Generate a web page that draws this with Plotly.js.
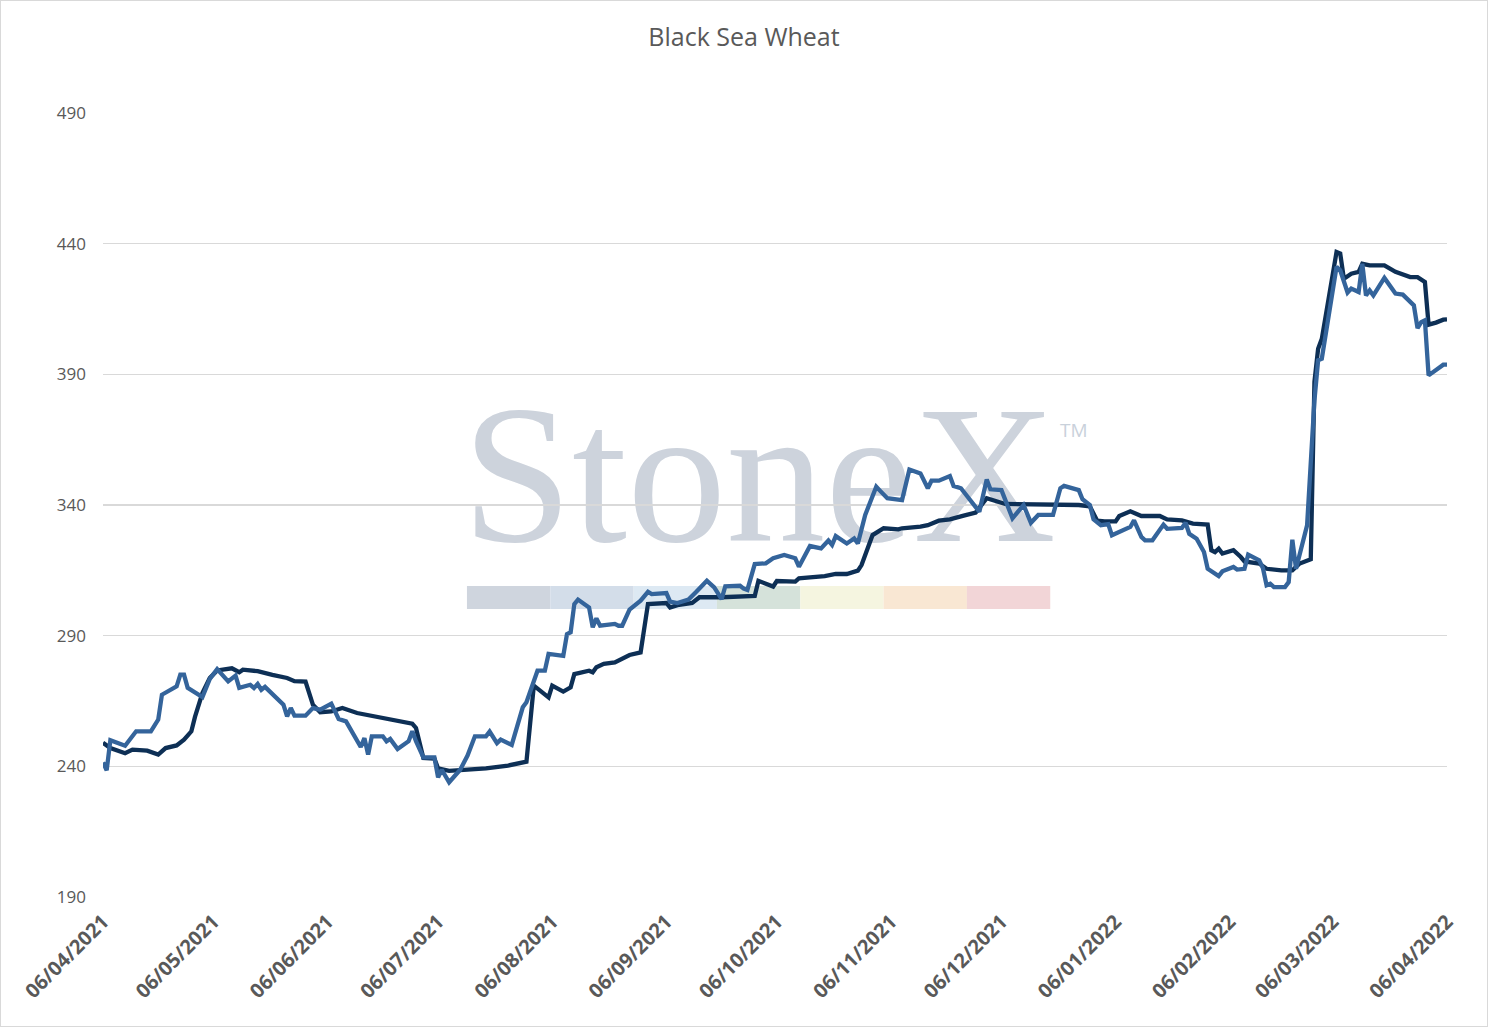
<!DOCTYPE html>
<html>
<head>
<meta charset="utf-8">
<script src="https://cdn.plot.ly/plotly-3.0.1.min.js"></script>
<style>
  body { margin: 0; background: #ffffff; }
  #chart_div { width: 1486px; height: 1025px; border: 1px solid #d9d9d9; }
</style>
</head>
<body>
<div id="chart_div"></div>
<script>

// dark series
var darkDates = ['2021-04-06','2021-04-08','2021-04-12','2021-04-14','2021-04-18','2021-04-21','2021-04-23','2021-04-26','2021-04-28','2021-04-30',
  '2021-05-01','2021-05-03','2021-05-05','2021-05-07','2021-05-11','2021-05-13','2021-05-14','2021-05-18','2021-05-22','2021-05-26','2021-05-28','2021-05-31',
  '2021-06-02','2021-06-04','2021-06-07','2021-06-10','2021-06-14','2021-06-21','2021-06-25','2021-06-29','2021-06-30',
  '2021-07-02','2021-07-05','2021-07-06','2021-07-09','2021-07-13','2021-07-19','2021-07-25','2021-07-30',
  '2021-08-01','2021-08-05','2021-08-06','2021-08-09','2021-08-11','2021-08-12','2021-08-16','2021-08-17','2021-08-18','2021-08-20','2021-08-23','2021-08-27','2021-08-30',
  '2021-09-01','2021-09-06','2021-09-07','2021-09-09','2021-09-13','2021-09-15','2021-09-21','2021-09-30',
  '2021-10-01','2021-10-05','2021-10-06','2021-10-11','2021-10-12','2021-10-15','2021-10-19','2021-10-22','2021-10-25','2021-10-28','2021-10-29',
  '2021-11-01','2021-11-04','2021-11-08','2021-11-09','2021-11-14','2021-11-16','2021-11-19','2021-11-22','2021-11-26','2021-11-29',
  '2021-12-02','2021-12-05','2021-12-07','2021-12-27','2021-12-30',
  '2022-01-01','2022-01-03','2022-01-06','2022-01-07','2022-01-10','2022-01-13','2022-01-18','2022-01-20','2022-01-24','2022-01-27','2022-01-31',
  '2022-02-01','2022-02-02','2022-02-03','2022-02-04','2022-02-07','2022-02-09','2022-02-10','2022-02-14','2022-02-16','2022-02-20','2022-02-23','2022-02-25','2022-02-28',
  '2022-03-01','2022-03-02','2022-03-03','2022-03-07','2022-03-08','2022-03-09','2022-03-11','2022-03-13','2022-03-14','2022-03-16','2022-03-20','2022-03-23','2022-03-27','2022-03-29','2022-03-31',
  '2022-04-01','2022-04-03','2022-04-05','2022-04-06'];
var darkValues = [249,247,245,246.4,246,244.5,247,248,250.2,253.4,
  259,268,273.8,276.7,277.5,276,277,276.4,275,273.8,272.6,272.4,
  263.6,260.7,261,262.3,260.4,258.5,257,256.3,254.7,
  243.2,243,239.2,238.3,238.7,239.2,240.3,241.8,
  270.9,266.4,270.9,268.6,270.2,275.3,276.6,276,277.9,279.2,279.8,282.6,283.6,
  302.1,302.5,300.8,301.7,302.5,304.7,304.7,305.2,
  311,308.8,310.9,310.7,311.9,312.3,312.8,313.6,313.6,314.9,317,
  328.5,331.1,330.7,331.1,331.7,332.3,334,334.5,336,337.1,
  342.6,341.3,340.4,340,339.5,
  334,333.7,333.7,335.8,337.6,335.8,335.8,334.5,334.1,332.9,332.5,
  322.7,322,323.3,321.4,322.7,320.1,318.4,317.6,315.6,315,315,317.6,319.2,
  387.1,399.8,403.6,436.8,436.2,426.6,428.5,429.2,432.3,431.7,431.7,429.2,427.2,427.2,425.3,
  409,409.8,410.9,411];

// blue series
var blueDates = ['2021-04-06','2021-04-07','2021-04-08','2021-04-12','2021-04-15','2021-04-19','2021-04-21','2021-04-22','2021-04-26','2021-04-27','2021-04-28','2021-04-29',
  '2021-05-03','2021-05-05','2021-05-07','2021-05-10','2021-05-12','2021-05-13','2021-05-16','2021-05-17','2021-05-18','2021-05-19','2021-05-20','2021-05-25','2021-05-26','2021-05-27','2021-05-28','2021-05-31',
  '2021-06-02','2021-06-04','2021-06-07','2021-06-09','2021-06-11','2021-06-14','2021-06-15','2021-06-16','2021-06-17','2021-06-18','2021-06-21','2021-06-22','2021-06-23','2021-06-25','2021-06-28','2021-06-29','2021-06-30',
  '2021-07-02','2021-07-05','2021-07-06','2021-07-07','2021-07-09','2021-07-12','2021-07-14','2021-07-16','2021-07-19','2021-07-20','2021-07-22','2021-07-23','2021-07-26','2021-07-27','2021-07-29','2021-07-30',
  '2021-08-02','2021-08-04','2021-08-05','2021-08-09','2021-08-10','2021-08-11','2021-08-12','2021-08-13','2021-08-16','2021-08-17','2021-08-18','2021-08-19','2021-08-23','2021-08-24','2021-08-25','2021-08-27','2021-08-30',
  '2021-09-01','2021-09-02','2021-09-06','2021-09-07','2021-09-09','2021-09-12','2021-09-14','2021-09-17','2021-09-19','2021-09-21','2021-09-22','2021-09-26','2021-09-27','2021-09-28','2021-09-30',
  '2021-10-03','2021-10-05','2021-10-08','2021-10-11','2021-10-12','2021-10-15','2021-10-18','2021-10-20','2021-10-21','2021-10-22','2021-10-25','2021-10-27','2021-10-28','2021-10-30',
  '2021-11-02','2021-11-03','2021-11-05','2021-11-09','2021-11-11','2021-11-14','2021-11-16','2021-11-17','2021-11-19','2021-11-22','2021-11-23','2021-11-25','2021-11-30',
  '2021-12-02','2021-12-03','2021-12-06','2021-12-09','2021-12-12','2021-12-14','2021-12-16','2021-12-20','2021-12-22','2021-12-23','2021-12-27','2021-12-28','2021-12-30','2021-12-31',
  '2022-01-02','2022-01-04','2022-01-05','2022-01-08','2022-01-10','2022-01-11','2022-01-13','2022-01-14','2022-01-16','2022-01-19','2022-01-20','2022-01-24','2022-01-25','2022-01-26','2022-01-28','2022-01-30','2022-01-31',
  '2022-02-03','2022-02-04','2022-02-07','2022-02-08','2022-02-10','2022-02-11','2022-02-14','2022-02-15','2022-02-16','2022-02-17','2022-02-18','2022-02-21','2022-02-22','2022-02-23','2022-02-24','2022-02-27',
  '2022-03-01','2022-03-02','2022-03-03','2022-03-07','2022-03-08','2022-03-10','2022-03-11','2022-03-13','2022-03-14','2022-03-15','2022-03-16','2022-03-17','2022-03-20','2022-03-22','2022-03-23','2022-03-25','2022-03-28','2022-03-29','2022-03-30','2022-03-31',
  '2022-04-01','2022-04-05','2022-04-06'];
var blueValues = [241.5,238.5,250,247.9,253.4,253.4,257.9,267.4,270.6,275.1,275.1,270,
  266.5,273.4,277.2,272.5,274.7,270,271.2,270,271.5,269.3,270.4,263.6,259.1,262.3,259.4,259.4,
  262.3,261.7,264,258.1,257.2,250.2,247.4,250.8,244.5,251.5,251.5,249.6,250.5,246.6,249.6,253.4,249.6,
  243.4,243.4,235.8,238.7,233.9,238.7,244.1,251.5,251.5,253.3,248.9,250.2,248.2,253,262.6,264.5,
  276.6,276.6,283,282.3,290.6,291.3,302.1,303.8,300.8,293.2,296.6,293.8,294.5,293.8,293.8,300,303.4,
  306.8,305.9,306.3,303,302.5,303.8,306.6,311,308.5,304,308.9,309.1,308,307.5,317.4,
  317.7,319.6,320.9,319.6,316.4,324.3,323.4,326.4,324.7,328.1,325.3,327.2,325.3,336.2,
  347,345.5,342.6,341.9,353.6,352.1,346.4,349.3,349.3,351.1,347.3,346.4,337.4,
  349.8,346,345.7,334.9,340,333.2,336.2,336.2,346.4,347.3,345.7,342.2,340,334.5,
  332.3,332.7,328.4,330.3,331.6,334.1,327.8,326.5,326.5,332.5,330.9,331.2,333.2,329,327.1,322,315.6,
  312.8,314.6,316.3,315.3,315.6,321,318.8,315.9,309.3,309.9,308.6,308.6,310.5,326.7,315.6,332.2,
  380,395.4,396,431.1,429.8,421.3,422.8,421.5,432.3,420.2,422.1,420.2,426.9,422.8,420.9,420.5,416.4,407.7,410,410.7,
  389.6,393.7,393.7];

// axis ticks
var tickDates = ['2021-04-06','2021-05-06','2021-06-06','2021-07-06','2021-08-06','2021-09-06','2021-10-06',
  '2021-11-06','2021-12-06','2022-01-06','2022-02-06','2022-03-06','2022-04-06'];
var yTicks = [190, 240, 290, 340, 390, 440, 490];

// watermark bar colours
var barColors = ['#cfd5de','#d3dde9','#dde9f3','#d5e2da','#f5f5e0','#f9e7d3','#f2d5d7'];

function drawChart() {

  var data = [
    {
      type: 'scatter',
      mode: 'lines',
      name: 'Series 1',
      x: darkDates,
      y: darkValues,
      line: { color: '#0d2f55', width: 4.3 },
      showlegend: false
    },
    {
      type: 'scatter',
      mode: 'lines',
      name: 'Series 2',
      x: blueDates,
      y: blueValues,
      line: { color: '#34649b', width: 4.3 },
      showlegend: false
    }
  ];

  // StoneX watermark behind the lines
  var shapes = [{
    type: 'rect', layer: 'below', xref: 'paper', yref: 'paper',
    x0: 0.2716, x1: 0.7046, y0: 0.4787, y1: 0.6547,
    line: { width: 0 }, fillcolor: 'rgba(0,0,0,0)',
    label: {
      text: 'StoneX',
      textposition: 'middle center',
      font: { family: 'Liberation Serif', size: 198, color: '#cdd3dc' }
    }
  }];
  var barStart = 0.2708, barStep = 0.0620;
  for (var i = 0; i < barColors.length; i++) {
    shapes.push({
      type: 'rect', layer: 'below', xref: 'paper', yref: 'paper',
      x0: barStart + i * barStep, x1: barStart + (i + 1) * barStep,
      y0: 0.3673, y1: 0.3967,
      line: { width: 0 }, fillcolor: barColors[i]
    });
  }

  var layout = {
    width: 1486,
    height: 1025,
    margin: { l: 102, r: 40, t: 112, b: 129 },
    paper_bgcolor: '#ffffff',
    plot_bgcolor: '#ffffff',
    title: {
      text: 'Black Sea Wheat',
      x: 0.5, xref: 'container', xanchor: 'center',
      y: 0.965, yref: 'container', yanchor: 'middle',
      font: { family: 'Open Sans', size: 25, color: '#595959' }
    },
    xaxis: {
      type: 'date',
      range: ['2021-04-06', '2022-04-06'],
      tickmode: 'array',
      tickvals: tickDates,
      tickformat: '%d/%m/%Y',
      tickangle: -45,
      showgrid: false,
      zeroline: false,
      showline: false,
      ticks: '',
      ticklabelstandoff: 8,
      tickfont: { family: 'Open Sans', size: 20, weight: 'bold', color: '#595959' }
    },
    yaxis: {
      range: [190, 490],
      tickmode: 'array',
      tickvals: yTicks,
      showgrid: true,
      gridcolor: '#d9d9d9',
      gridwidth: 1.3,
      zeroline: false,
      showline: false,
      ticks: '',
      ticklabelstandoff: 16,
      tickfont: { family: 'Open Sans', size: 17, color: '#595959' }
    },
    shapes: shapes,
    annotations: [{
      text: 'TM', showarrow: false,
      xref: 'paper', yref: 'paper', x: 0.7345, y: 0.5957,
      font: { family: 'Open Sans', size: 19, color: '#c9d1db' }
    }]
  };

  Plotly.newPlot('chart_div', data, layout, { displayModeBar: false, staticPlot: true });
}

drawChart();
</script>
</body>
</html>
